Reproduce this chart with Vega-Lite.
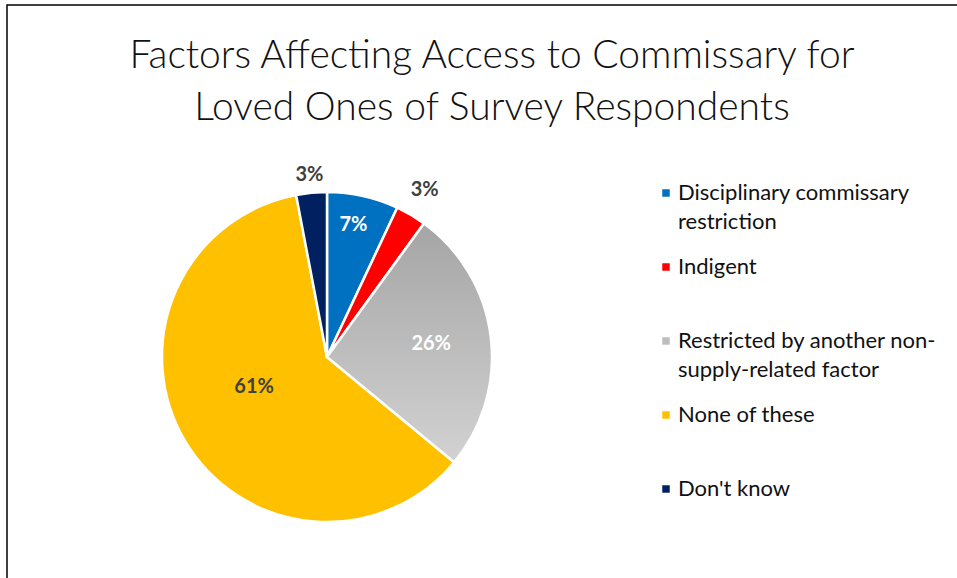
{
  "$schema": "https://vega.github.io/schema/vega-lite/v6.json",
  "autosize": "none",
  "padding": {"left": 7, "top": 5, "right": 0, "bottom": 0},
  "width": 970,
  "height": 600,
  "background": "white",
  "view": {"stroke": "black", "strokeWidth": 1.5},
  "config": {
    "view": {"stroke": "black", "strokeWidth": 1.5},
    "style": {"guide-label": {"lineHeight": 29}}
  },
  "title": {
    "text": ["Factors Affecting Access to Commissary for", "Loved Ones of Survey Respondents"],
    "font": "Lato",
    "fontWeight": 300,
    "fontSize": 39,
    "color": "#111111",
    "lineHeight": 52,
    "anchor": "middle",
    "frame": "group",
    "baseline": "alphabetic",
    "offset": -154
  },
  "data": {
    "values": [
      {"cat": "Disciplinary commissary restriction", "value": 7, "label": "7%", "ord": 1},
      {"cat": "Indigent", "value": 3, "label": "3%", "ord": 2},
      {"cat": "Restricted by another non-supply-related factor", "value": 26, "label": "26%", "ord": 3},
      {"cat": "None of these", "value": 61, "label": "61%", "ord": 4},
      {"cat": "Don't know", "value": 3, "label": "3%", "ord": 5}
    ]
  },
  "encoding": {
    "theta": {"field": "value", "type": "quantitative", "stack": true},
    "order": {"field": "ord", "type": "quantitative"}
  },
  "layer": [
    {
      "mark": {"type": "arc", "x": 320, "y": 352, "outerRadius": 165, "stroke": "white", "strokeWidth": 2.5},
      "encoding": {
        "color": {
          "field": "cat",
          "type": "nominal",
          "sort": ["Disciplinary commissary restriction", "Indigent", "Restricted by another non-supply-related factor", "None of these", "Don't know"],
          "scale": {
            "domain": ["Disciplinary commissary restriction", "Indigent", "Restricted by another non-supply-related factor", "None of these", "Don't know"],
            "range": ["#0070C0", "#FF0000", "#BDBDBD", "#FFC000", "#002060"]
          },
          "legend": {
            "title": null,
            "orient": "none",
            "legendX": 648,
            "legendY": 177,
            "padding": 0,
            "symbolType": "square",
            "symbolSize": 56,
            "symbolStrokeWidth": 0,
            "labelFont": "Lato",
            "labelFontSize": 22,
            "labelColor": "#111111",
            "labelOffset": 1,
            "labelLimit": 400,
            "rowPadding": 23,
            "labelExpr": "datum.label == 'Disciplinary commissary restriction' ? ['Disciplinary commissary', 'restriction'] : datum.label == 'Restricted by another non-supply-related factor' ? ['Restricted by another non-', 'supply-related factor'] : [datum.label, '']"
          }
        }
      }
    },
    {
      "mark": {"type": "arc", "x": 320, "y": 352, "outerRadius": 165, "stroke": "white", "strokeWidth": 2.5},
      "encoding": {
        "detail": {"field": "cat", "type": "nominal"},
        "fill": {
          "condition": {
            "test": "datum.cat == 'Restricted by another non-supply-related factor'",
            "value": {"gradient": "linear", "x1": 0, "y1": 0, "x2": 0, "y2": 1, "stops": [{"offset": 0, "color": "#A5A5A5"}, {"offset": 1, "color": "#D2D2D2"}]}
          },
          "value": "transparent"
        },
        "strokeOpacity": {"condition": {"test": "datum.cat == 'Restricted by another non-supply-related factor'", "value": 1}, "value": 0}
      }
    },
    {
      "mark": {"type": "text", "x": 320, "y": 352, "radius": 135, "dx": -3, "font": "Lato", "fontWeight": "bold", "fontSize": 20, "color": "white"},
      "encoding": {
        "detail": {"field": "cat", "type": "nominal"},
        "text": {"condition": {"test": "datum.cat == 'Disciplinary commissary restriction'", "field": "label"}, "value": ""}
      }
    },
    {
      "mark": {"type": "text", "x": 320, "y": 352, "radius": 105, "font": "Lato", "fontWeight": "bold", "fontSize": 20, "color": "white"},
      "encoding": {
        "detail": {"field": "cat", "type": "nominal"},
        "text": {"condition": {"test": "datum.cat == 'Restricted by another non-supply-related factor'", "field": "label"}, "value": ""}
      }
    },
    {
      "mark": {"type": "text", "x": 320, "y": 352, "radius": 80, "dx": -4, "dy": -11, "font": "Lato", "fontWeight": "bold", "fontSize": 20, "color": "#404040"},
      "encoding": {
        "detail": {"field": "cat", "type": "nominal"},
        "text": {"condition": {"test": "datum.cat == 'None of these'", "field": "label"}, "value": ""}
      }
    },
    {
      "mark": {"type": "text", "x": 320, "y": 352, "radius": 192, "dy": -2, "font": "Lato", "fontWeight": "bold", "fontSize": 20, "color": "#404040"},
      "encoding": {
        "detail": {"field": "cat", "type": "nominal"},
        "text": {"condition": {"test": "datum.cat == 'Indigent'", "field": "label"}, "value": ""}
      }
    },
    {
      "mark": {"type": "text", "x": 320, "y": 352, "radius": 186, "dy": 3, "font": "Lato", "fontWeight": "bold", "fontSize": 20, "color": "#404040"},
      "encoding": {
        "detail": {"field": "cat", "type": "nominal"},
        "text": {"condition": {"test": "datum.cat == \"Don't know\"", "field": "label"}, "value": ""}
      }
    }
  ]
}
